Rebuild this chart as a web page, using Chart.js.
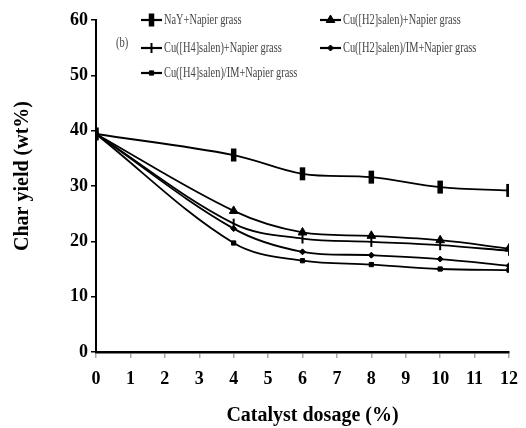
<!DOCTYPE html>
<html>
<head>
<meta charset="utf-8">
<script src="https://cdn.jsdelivr.net/npm/chart.js@4/dist/chart.umd.min.js"></script>
<style>
  html, body { margin: 0; padding: 0; background: #fff; }
  #wrap { width: 526px; height: 428px; }
</style>
</head>
<body>
<div id="wrap"><canvas id="chart" width="526" height="428"></canvas></div>
<script>
// catalyst dosage (%) and char yield (wt%)
var dosage = [0, 4, 6, 8, 10, 12];
var nayYield = [39.4, 35.6, 32.2, 31.6, 29.8, 29.2];
var cuH2Yield = [39.4, 25.5, 21.6, 21.0, 20.2, 18.7];
var cuH4Yield = [39.4, 23.2, 20.5, 19.9, 19.3, 18.3];
var cuH2ImYield = [39.4, 22.3, 18.1, 17.5, 16.8, 15.6];
var cuH4ImYield = [39.4, 19.7, 16.5, 15.8, 15.0, 14.8];
var seriesLabels = [
    'NaY+Napier grass',
    'Cu([H2]salen)+Napier grass',
    'Cu([H4]salen)+Napier grass',
    'Cu([H2]salen)/IM+Napier grass',
    'Cu([H4]salen)/IM+Napier grass'
];
var yTicks = [0, 10, 20, 30, 40, 50, 60];

function toPoints(values) {
    return values.map(function (v, i) { return { x: dosage[i], y: v }; });
}

function makeSeries(label, values, marker) {
    return {
        label: label,
        data: toPoints(values),
        borderColor: '#000',
        backgroundColor: '#000',
        borderWidth: 1.8,
        tension: 0.35,
        pointStyle: marker.style,
        pointRotation: marker.rotation || 0,
        pointRadius: marker.radius,
        pointBorderWidth: marker.width,
        pointBackgroundColor: '#000',
        pointBorderColor: '#000'
    };
}

var datasets = [
    makeSeries(seriesLabels[0], nayYield, { style: 'line', rotation: 90, radius: 6.5, width: 5.5 }),
    makeSeries(seriesLabels[1], cuH2Yield, { style: 'triangle', radius: 5, width: 1 }),
    makeSeries(seriesLabels[2], cuH4Yield, { style: 'line', rotation: 90, radius: 5, width: 2 }),
    makeSeries(seriesLabels[3], cuH2ImYield, { style: 'rectRot', radius: 3, width: 1 }),
    makeSeries(seriesLabels[4], cuH4ImYield, { style: 'rect', radius: 3, width: 1 })
];

// legend drawn inside the plot, two columns like the original
var legendSlots = [[45, 0], [224, 0], [45, 28], [224, 28], [45, 53]];
var insideLegend = {
    id: 'insideLegend',
    afterDraw: function (chart) {
        var ctx = chart.ctx;
        var area = chart.chartArea;
        ctx.save();
        ctx.fillStyle = '#444';
        ctx.font = '14px "Liberation Serif"';
        ctx.textBaseline = 'middle';
        ctx.save();
        ctx.translate(area.left + 20, area.top + 23);
        ctx.scale(0.75, 1.05);
        ctx.fillText('(b)', 0, 0);
        ctx.restore();
        chart.data.datasets.forEach(function (ds, i) {
            var x = area.left + legendSlots[i][0];
            var y = area.top + legendSlots[i][1];
            ctx.strokeStyle = '#000';
            ctx.lineWidth = 2.2;
            ctx.beginPath();
            ctx.moveTo(x, y);
            ctx.lineTo(x + 21, y);
            ctx.stroke();
            ctx.fillStyle = '#000';
            ctx.lineWidth = ds.pointBorderWidth;
            Chart.helpers.drawPoint(ctx, {
                pointStyle: ds.pointStyle,
                rotation: ds.pointRotation,
                radius: ds.pointRadius,
                borderWidth: ds.pointBorderWidth
            }, x + 10.5, y);
            ctx.save();
            ctx.translate(x + 23, y);
            ctx.scale(0.74, 1);
            ctx.fillStyle = '#444';
            ctx.fillText(ds.label, 0, 0);
            ctx.restore();
        });
        ctx.restore();
    }
};

var boldSerif = function (size) {
    return { family: '"Liberation Serif", "DejaVu Serif", serif', size: size, weight: 'bold' };
};

new Chart(document.getElementById('chart').getContext('2d'), {
    type: 'line',
    data: { datasets: datasets },
    options: {
        responsive: false,
        animation: false,
        layout: { padding: { left: 0, right: 17, top: 20, bottom: 0 } },
        plugins: {
            legend: { display: false },
            tooltip: { enabled: false }
        },
        scales: {
            x: {
                type: 'linear',
                min: 0,
                max: 12,
                ticks: { stepSize: 1, color: '#000', font: boldSerif(18), padding: 11 },
                grid: { drawOnChartArea: false, tickLength: 6, color: '#aaa', lineWidth: 1.5 },
                border: { color: '#000', width: 2.5 },
                title: {
                    display: true,
                    text: '\u00a0\u00a0\u00a0\u00a0Catalyst dosage (%)',
                    color: '#000',
                    font: boldSerif(20),
                    padding: { top: 0, bottom: 0 }
                },
                afterFit: function (scale) {
                    scale.height = 76;
                    scale.paddingLeft = 0;
                    scale.paddingRight = 0;
                }
            },
            y: {
                min: 0,
                max: 60,
                afterBuildTicks: function (scale) {
                    scale.ticks = yTicks.map(function (v) { return { value: v }; });
                },
                ticks: { color: '#000', font: boldSerif(18), padding: 3 },
                grid: { drawOnChartArea: false, tickLength: 5, color: '#000', lineWidth: 1.5 },
                border: { color: '#000', width: 2 },
                title: {
                    display: true,
                    text: '\u00a0\u00a0\u00a0\u00a0Char yield (wt%)',
                    color: '#000',
                    font: boldSerif(20),
                    padding: { top: 11, bottom: 0 }
                },
                afterFit: function (scale) { scale.width = 96; }
            }
        }
    },
    plugins: [insideLegend]
});
</script>
</body>
</html>
